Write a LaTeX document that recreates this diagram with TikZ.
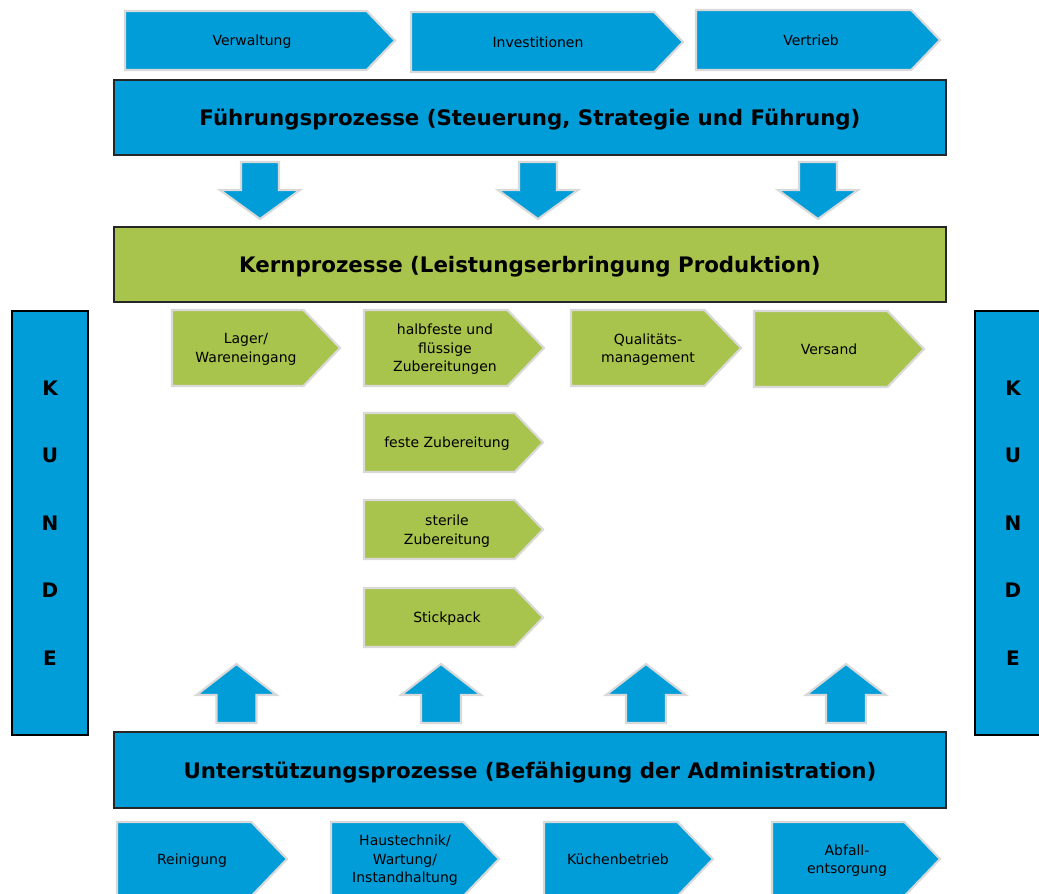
\documentclass[tikz,border=0pt]{standalone}
\usepackage{fontspec}
\setmainfont{DejaVu Sans}
\definecolor{blu}{RGB}{0,157,217}
\definecolor{grn}{RGB}{168,196,76}
\definecolor{rim}{RGB}{217,217,217}
\definecolor{edge}{RGB}{38,38,38}

\begin{document}
\begin{tikzpicture}[
      x = 0.75pt, y = -0.75pt,
      chev/.style = {draw = rim, line width = 1.6pt, line join = miter},
      chevtext/.style = {align = center, inner sep = 0pt, text = black, text depth = 0pt,
            font = \fontsize{10.5}{13.8}\selectfont},
      bigbox/.style = {draw = edge, line width = 1.2pt, minimum width = 624pt, text depth = 0pt,
            font = \fontsize{16}{18}\selectfont\bfseries},
      kunde/.style = {draw = black, line width = 1.2pt, fill = blu, align = center,
            minimum width = 57pt, minimum height = 318pt, text depth = 0pt,
            font = \fontsize{15}{50.6}\selectfont\bfseries},
      blockarrow/.style = {fill = blu, draw = rim, line width = 1.6pt}
      ]
      \useasboundingbox (0,0) rectangle (1039,893);
      \clip (0,0) rectangle (1039,893);

      % main process boxes
      \node[bigbox, fill = blu, minimum height = 56.25pt] (fuehr) at (530,117.5)
            {Führungsprozesse (Steuerung, Strategie und Führung)};
      \node[bigbox, fill = grn, minimum height = 56.25pt] (kern) at (530,264.5)
            {Kernprozesse (Leistungserbringung Produktion)};
      \node[bigbox, fill = blu, minimum height = 57pt] (unterst) at (530,770)
            {Unterstützungsprozesse (Befähigung der Administration)};

      % customer bars
      \node[kunde] (kundeL) at (50,523) {K\\U\\N\\D\\E};
      \node[kunde] (kundeR) at (1013,523) {K\\U\\N\\D\\E};

      % block arrows
      \foreach \ax in {260,538,818}
            \filldraw[blockarrow] ({\ax-19},162) -- ({\ax+19},162) -- ({\ax+19},190)
                  -- ({\ax+40},190) -- (\ax,219) -- ({\ax-40},190) -- ({\ax-19},190) -- cycle;
      \foreach \ax in {236.5,441,646,846}
            \filldraw[blockarrow] ({\ax-20},723) -- ({\ax+20},723) -- ({\ax+20},695)
                  -- ({\ax+40},695) -- (\ax,664) -- ({\ax-40},695) -- ({\ax-20},695) -- cycle;

      % chevrons
      \foreach \nm/\col/\xa/\xb/\ya/\yb/\tx/\txt in {
            verw/blu/125/395/11/70/252/Verwaltung,
            inv/blu/411/683/12/72/538/Investitionen,
            vert/blu/696/940/10/70/811/Vertrieb,
            lager/grn/172/340/310/386/246/{Lager/\\Wareneingang},
            halb/grn/364/544/310/386/445/{halbfeste und\\flüssige\\Zubereitungen},
            qual/grn/571/741/310/386/648/{Qualitäts-\\management},
            vers/grn/754/924/311/387/829/Versand,
            fest/grn/364/543/413/472/447/feste Zubereitung,
            steril/grn/364/543/500/559/447/{sterile\\Zubereitung},
            stick/grn/364/543/588/647/447/Stickpack,
            rein/blu/117/287/822/896/192/Reinigung,
            haus/blu/331/499/822/896/405/{Haustechnik/\\Wartung/\\Instandhaltung},
            kuech/blu/544/713/822/896/618/Küchenbetrieb,
            abf/blu/772/940/822/896/847/{Abfall-\\entsorgung}}{
            \pgfmathsetmacro\dep{0.48*(\yb-\ya)}
            \pgfmathsetmacro\ym{(\ya+\yb)/2}
            \filldraw[chev, fill = \col] (\xa,\ya) -- ({\xb-\dep},\ya) -- (\xb,\ym)
                  -- ({\xb-\dep},\yb) -- (\xa,\yb) -- cycle;
            \node[chevtext] (\nm) at (\tx,\ym) {\txt};
      }
\end{tikzpicture}
\end{document}
